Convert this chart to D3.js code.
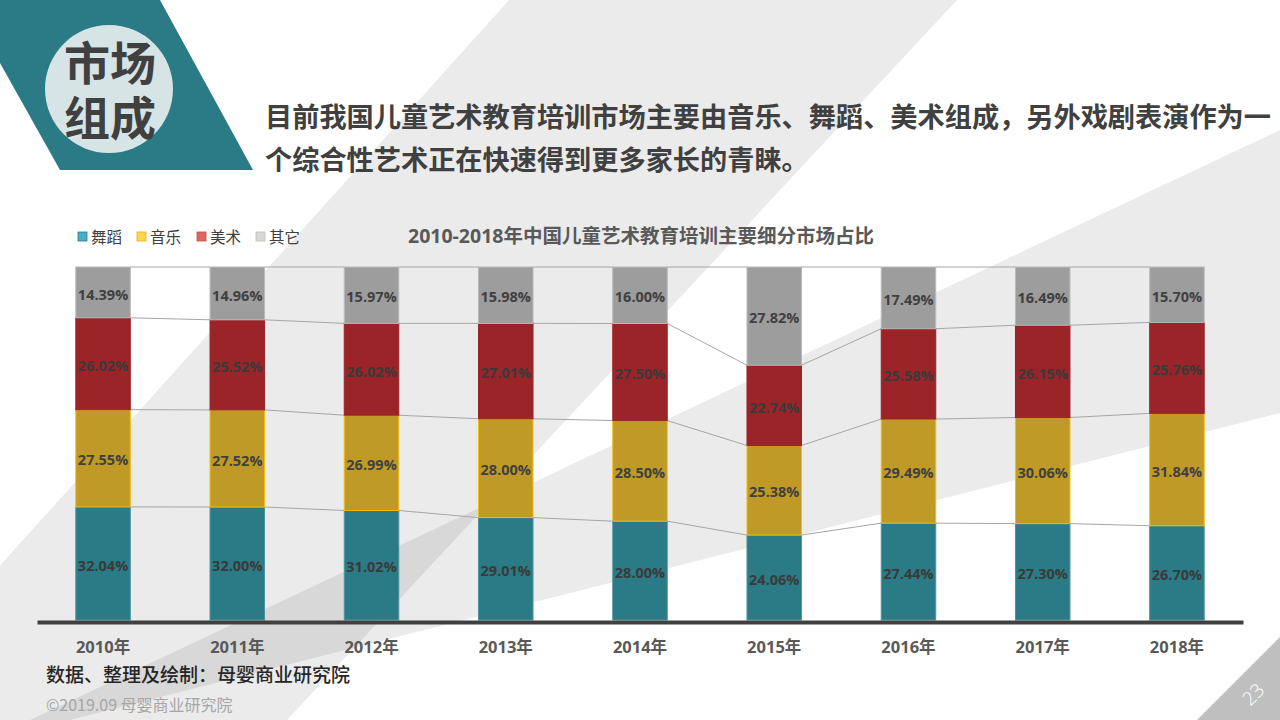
<!DOCTYPE html>
<html>
<head>
<meta charset="utf-8">
<script src="https://cdn.jsdelivr.net/npm/d3@7"></script>
<style>
  html, body { margin: 0; padding: 0; background: #fff; }
  svg { display: block; }
  text { font-family: "Open Sans", "Noto Sans CJK SC", sans-serif; }
  .cjk { font-family: "Noto Sans CJK SC", "Open Sans", sans-serif; }
</style>
</head>
<body>
<svg id="chart" width="1280" height="720"></svg>
<script>
// ---------- data ----------
const years = ["2010年", "2011年", "2012年", "2013年", "2014年", "2015年", "2016年", "2017年", "2018年"];
const seriesNames = ["舞蹈", "音乐", "美术", "其它"];
const dance = [32.04, 32.00, 31.02, 29.01, 28.00, 24.06, 27.44, 27.30, 26.70];
const music = [27.55, 27.52, 26.99, 28.00, 28.50, 25.38, 29.49, 30.06, 31.84];
const art   = [26.02, 25.52, 26.02, 27.01, 27.50, 22.74, 25.58, 26.15, 25.76];
const other = [14.39, 14.96, 15.97, 15.98, 16.00, 27.82, 17.49, 16.49, 15.70];
const yTicks = [0, 100];

const chartTitle = "2010-2018年中国儿童艺术教育培训主要细分市场占比";
const headTitle = ["市场", "组成"];
const subtitle = ["目前我国儿童艺术教育培训市场主要由音乐、舞蹈、美术组成，另外戏剧表演作为一",
                  "个综合性艺术正在快速得到更多家长的青睐。"];
const sourceText = "数据、整理及绘制：母婴商业研究院";
const copyText = "©2019.09 母婴商业研究院";
const pageNo = "23";

// ---------- styles ----------
const barColors = ["#2a7b85", "#c09a27", "#9a2428", "#9d9d9d"];
const barStroke = ["#4a949d", "#f2bc12", "#9a2428", "#b9b9b9"];
const legendColors = ["#4bacc6", "#ffd34d", "#e06666", "#d9d9d9"];
const legendStroke = ["#2a7b85", "#e3b020", "#c0504d", "#bfbfbf"];

const svg = d3.select("#chart");

// ---------- background shapes ----------
const bg = svg.append("g");
const band1 = [[509, 0], [957, 0], [287, 720], [-139, 720]];
const band2 = [[1280, 130], [1280, 413], [70, 720], [30, 720]];
[band1, band2].forEach(p => {
  bg.append("path").attr("d", d3.line()(p) + "Z").attr("fill", "#000").attr("fill-opacity", 0.078);
});

// header teal shape + circle
svg.append("path").attr("d", d3.line()([[0, 0], [160, 0], [253, 170], [60, 170], [0, 63]]) + "Z")
  .attr("fill", "#2a7b85");
svg.append("circle").attr("cx", 109).attr("cy", 89).attr("r", 64).attr("fill", "#d7e4e6");
const head = svg.append("text").attr("class", "cjk").attr("text-anchor", "middle")
  .attr("font-size", 46).attr("font-weight", 700).attr("fill", "#404040");
headTitle.forEach((t, i) => {
  head.append("tspan").attr("x", 110).attr("y", 80 + i * 55).text(t);
});
subtitle.forEach((t, i) => {
  svg.append("text").attr("class", "cjk").attr("x", 265).attr("y", 127 + i * 43)
    .attr("font-size", 27.2).attr("font-weight", 700).attr("fill", "#404040").text(t);
});

// page number triangle
svg.append("path").attr("d", d3.line()([[1197, 720], [1280, 637], [1280, 720]]) + "Z").attr("fill", "#bfbfbf");
svg.append("text").attr("transform", "translate(1258,699) rotate(-45)")
  .attr("text-anchor", "middle").attr("font-size", 19).attr("font-weight", 300)
  .attr("fill", "#fff").text(pageNo);

// ---------- chart ----------
const table = years.map((y, i) => ({ year: y, "舞蹈": dance[i], "音乐": music[i], "美术": art[i], "其它": other[i] }));
const stacked = d3.stack().keys(seriesNames)(table);

const x = d3.scaleBand().domain(years).range([37, 1243]).paddingInner(0.594).paddingOuter(0.289);
const y = d3.scaleLinear().domain([yTicks[0], yTicks[1]]).range([620, 267]);
const bw = x.bandwidth();

// series lines
const lineG = svg.append("g");
stacked.forEach(s => {
  for (let i = 0; i < years.length - 1; i++) {
    lineG.append("line")
      .attr("x1", x(years[i]) + bw).attr("y1", y(s[i][1]))
      .attr("x2", x(years[i + 1])).attr("y2", y(s[i + 1][1]))
      .attr("stroke", "#a6a6a6").attr("stroke-width", 1);
  }
});

// bars
const barsG = svg.append("g");
stacked.forEach((s, k) => {
  barsG.selectAll(null).data(s).enter().append("rect")
    .attr("x", d => x(d.data.year))
    .attr("y", d => y(d[1]))
    .attr("width", bw)
    .attr("height", d => y(d[0]) - y(d[1]))
    .attr("fill", barColors[k])
    .attr("stroke", barStroke[k]).attr("stroke-width", 1);
});
// labels
stacked.forEach((s, k) => {
  barsG.selectAll(null).data(s).enter().append("text")
    .attr("x", d => x(d.data.year) + bw / 2)
    .attr("y", d => (y(d[0]) + y(d[1])) / 2 + 2)
    .attr("dy", "0.36em")
    .attr("text-anchor", "middle")
    .attr("font-size", 14.5).attr("font-weight", 700)
    .attr("fill", k === 0 || k === 2 ? "#3a3a3a" : "#404040")
    .text(d => (d[1] - d[0]).toFixed(2) + "%");
});

// x axis
const axis = svg.append("g").attr("transform", "translate(0,622)")
  .call(d3.axisBottom(x).tickSize(0).tickPadding(19));
axis.select(".domain").attr("stroke", "#404040").attr("stroke-width", 4);
axis.selectAll("text").attr("font-size", 16.5).attr("font-weight", 700)
  .attr("fill", "#595959").attr("font-family", "'Open Sans','Noto Sans CJK SC',sans-serif");

// chart title
svg.append("text").attr("x", 641).attr("y", 243).attr("text-anchor", "middle")
  .attr("font-size", 19.5).attr("font-weight", 700).attr("fill", "#595959").text(chartTitle);

// legend
const legX = [78, 137, 197, 256];
seriesNames.forEach((n, i) => {
  svg.append("rect").attr("x", legX[i]).attr("y", 232).attr("width", 9).attr("height", 9)
    .attr("fill", legendColors[i]).attr("stroke", legendStroke[i]).attr("stroke-width", 0.8);
  svg.append("text").attr("class", "cjk").attr("x", legX[i] + 13).attr("y", 242.5)
    .attr("font-size", 15.5).attr("fill", "#404040").text(n);
});

// source / copyright
svg.append("text").attr("class", "cjk").attr("x", 46).attr("y", 682)
  .attr("font-size", 19).attr("font-weight", 500).attr("fill", "#262626").text(sourceText);
svg.append("text").attr("class", "cjk").attr("x", 46).attr("y", 711)
  .attr("font-size", 16).attr("fill", "#a6a6a6").text(copyText);
</script>
</body>
</html>
